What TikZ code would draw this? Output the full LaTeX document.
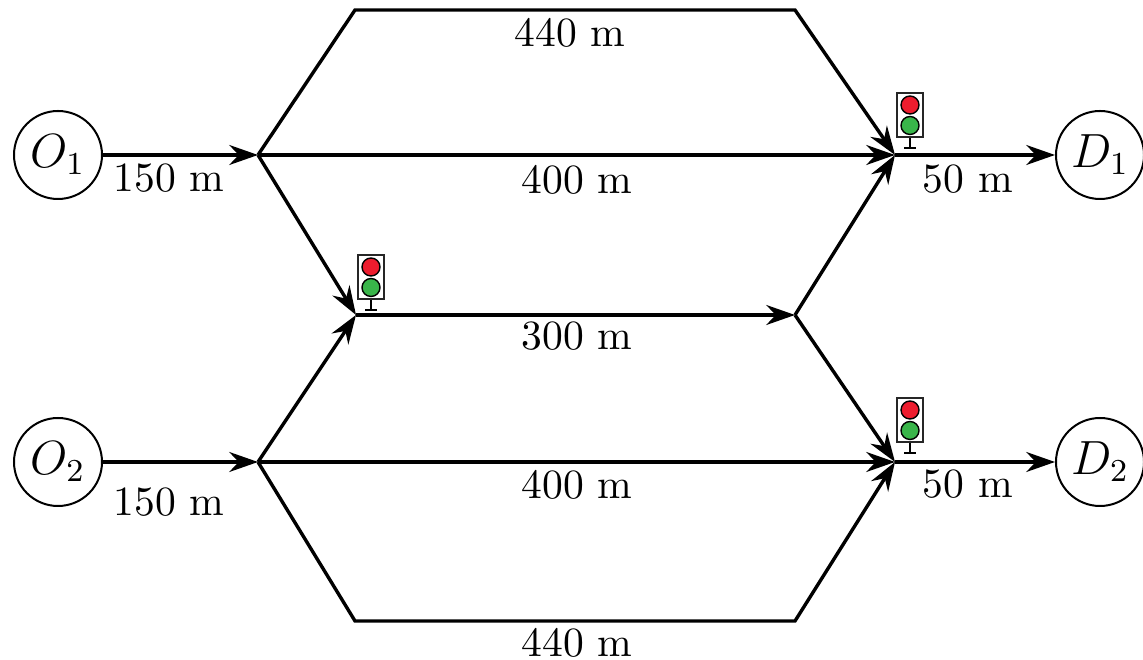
\documentclass[tikz,border=0pt]{standalone}
\usetikzlibrary{arrows.meta}
\definecolor{lightred}{RGB}{237,28,46}
\definecolor{lightgreen}{RGB}{57,181,74}
\tikzset{
  x=0.25pt,y=-0.25pt,
  road/.style={line width=0.85pt,black,line join=miter,-{Stealth[length=7.2pt,width=5pt,inset=2.4pt]}},
  terminal/.style={circle,draw,line width=0.5pt,minimum size=22pt,inner sep=0pt,font=\fontsize{11.5}{14}\selectfont},
  lbl/.style={inner sep=0pt,font=\fontsize{10.4}{12}\selectfont},
  lamp/.style={circle,draw,line width=0.35pt,minimum size=4.5pt,inner sep=0pt,fill=#1},
  housing/.style={draw,black!85,line width=0.45pt,fill=white,minimum width=6.5pt,minimum height=11.1pt,inner sep=0pt},
  trafficlight/.pic={
    \node[housing] (-box) at (0,0) {};
    \node[lamp=lightred] (-r) at (0,-10) {};
    \node[lamp=lightgreen] (-g) at (0,10.5) {};
    \coordinate (-foot) at (0,33);
    \coordinate (-l) at (-6,33);
    \coordinate (-rr) at (6,33);
    \draw[line width=0.45pt] (-box.south) -- (-foot) (-l) -- (-rr);
  }
}
\begin{document}
\begin{tikzpicture}
\useasboundingbox (0,0) rectangle (1143,660);
\node[terminal] (O1) at (58,155) {$O_1$};
\node[terminal] (O2) at (58,462) {$O_2$};
\node[terminal] (D1) at (1100,155) {$D_1$};
\node[terminal] (D2) at (1100,462) {$D_2$};
\coordinate (A) at (258,155);
\coordinate (G) at (258,462);
\coordinate (B) at (356,315);
\coordinate (C) at (795,315);
\coordinate (E) at (895,155);
\coordinate (F) at (895,462);
\coordinate (T1) at (355,10);
\coordinate (T2) at (795,10);
\coordinate (U1) at (355,621);
\coordinate (U2) at (795,621);
\draw[road] (O1) -- (A);
\draw[road] (O2) -- (G);
\draw[road] (A) -- (E);
\draw[road] (G) -- (F);
\draw[road] (B) -- (C);
\draw[road] (A) -- (B);
\draw[road] (G) -- (B);
\draw[road] (C) -- (E);
\draw[road] (C) -- (F);
\draw[road] (A) -- (T1) -- (T2) -- (E);
\draw[road] (G) -- (U1) -- (U2) -- (F);
\draw[road] (E) -- (D1);
\draw[road] (F) -- (D2);
\pic (L1) at (910,115) {trafficlight};
\pic (L2) at (371,277) {trafficlight};
\pic (L3) at (910,420) {trafficlight};
\node[lbl] (t1) at (570,33) {440 m};
\node[lbl] (t2) at (169,178) {150 m};
\node[lbl] (t3) at (577,179.5) {400 m};
\node[lbl] (t4) at (968,179) {50 m};
\node[lbl] (t5) at (577,336.5) {300 m};
\node[lbl] (t6) at (169,502) {150 m};
\node[lbl] (t7) at (577,484.5) {400 m};
\node[lbl] (t8) at (968,484) {50 m};
\node[lbl] (t9) at (577,643) {440 m};
\end{tikzpicture}
\end{document}
